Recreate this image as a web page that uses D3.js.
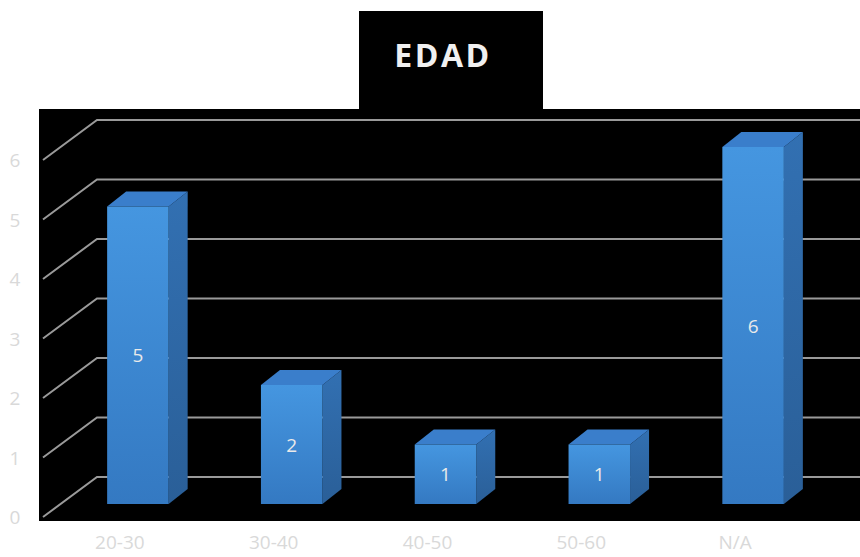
<!DOCTYPE html>
<html>
<head>
<meta charset="utf-8">
<script src="https://cdn.jsdelivr.net/npm/d3@7"></script>
<style>
  body { margin: 0; background: #fff; }
  svg { display: block; font-family: "Open Sans", "Liberation Sans", sans-serif; }
</style>
</head>
<body>
<svg id="chart" width="860" height="557"></svg>
<script>
// données
var categories = ["20-30", "30-40", "40-50", "50-60", "N/A"];
var valeurs = [5, 2, 1, 1, 6];
var ticks = [0, 1, 2, 3, 4, 5, 6];
var titre = "EDAD";

var svg = d3.select("#chart");

// profondeur des barres (perspective)
var barDx = 19, barDy = -15;

var x = d3.scaleBand().domain(categories).range([61, 830]).padding(0);
var barW = x.bandwidth() * 0.4;
var y = d3.scaleLinear().domain([0, 6]).range([504, 147]);
var yFront = function(v) { return y(v) + 13; };

// zone noire + boîte du titre
svg.append("rect").attr("x", 39).attr("y", 109).attr("width", 821).attr("height", 412).attr("fill", "#000");
svg.append("rect").attr("x", 359).attr("y", 11).attr("width", 184).attr("height", 100).attr("fill", "#000");
svg.append("text")
    .attr("x", 443).attr("y", 54)
    .attr("text-anchor", "middle").attr("dominant-baseline", "central")
    .attr("fill", "#f0f0f0").attr("font-size", 32).attr("font-weight", 700)
    .attr("letter-spacing", 2.5)
    .text(titre);

// grille: diagonale à gauche puis ligne horizontale sur le mur du fond
var grille = svg.append("g").attr("stroke", "#9a9a9a").attr("stroke-width", 2).attr("fill", "none");
grille.selectAll("path")
  .data(ticks)
  .enter().append("path")
    .attr("d", function(v) {
      var yf = yFront(v), xf = 43;
      return "M" + xf + "," + yf + "L" + (xf + 54) + "," + (yf - 40) + "L860," + (yf - 40);
    });

// étiquettes de l'axe y
svg.append("g").selectAll("text")
  .data(ticks)
  .enter().append("text")
    .attr("x", 15).attr("y", function(v) { return yFront(v); })
    .attr("text-anchor", "middle").attr("dominant-baseline", "central")
    .attr("fill", "#d9d9d9").attr("font-size", 19)
    .text(function(v) { return v; });

// dégradés des faces
var defs = svg.append("defs");
var grad = defs.append("linearGradient").attr("id", "face").attr("x1", 0).attr("y1", 0).attr("x2", 0).attr("y2", 1);
grad.append("stop").attr("offset", "0%").attr("stop-color", "#4596e0");
grad.append("stop").attr("offset", "100%").attr("stop-color", "#3479c2");
var gradSide = defs.append("linearGradient").attr("id", "cote").attr("x1", 0).attr("y1", 0).attr("x2", 0).attr("y2", 1);
gradSide.append("stop").attr("offset", "0%").attr("stop-color", "#3270b2");
gradSide.append("stop").attr("offset", "100%").attr("stop-color", "#2a5f98");

var data = categories.map(function(c, i) { return { cat: c, val: valeurs[i] }; });

var barres = svg.append("g").selectAll("g")
  .data(data)
  .enter().append("g")
    .attr("transform", function(d) {
      return "translate(" + (x(d.cat) + x.bandwidth() / 2 - barW / 2) + ",0)";
    });

// face latérale
barres.append("path")
    .attr("fill", "url(#cote)")
    .attr("d", function(d) {
      var t = y(d.val), b = y(0);
      return "M" + barW + "," + t + "L" + (barW + barDx) + "," + (t + barDy) +
             "L" + (barW + barDx) + "," + (b + barDy) + "L" + barW + "," + b + "Z";
    });
// face du dessus
barres.append("path")
    .attr("fill", "#3a7ecb")
    .attr("d", function(d) {
      var t = y(d.val);
      return "M0," + t + "L" + barDx + "," + (t + barDy) + "L" + (barW + barDx) + "," + (t + barDy) +
             "L" + barW + "," + t + "Z";
    });
// face avant
barres.append("rect")
    .attr("x", 0).attr("y", function(d) { return y(d.val); })
    .attr("width", barW).attr("height", function(d) { return y(0) - y(d.val); })
    .attr("fill", "url(#face)");
// valeurs
barres.append("text")
    .attr("x", barW / 2).attr("y", function(d) { return (y(d.val) + y(0)) / 2; })
    .attr("text-anchor", "middle").attr("dominant-baseline", "central")
    .attr("fill", "#eaeaea").attr("font-size", 19)
    .text(function(d) { return d.val; });

// étiquettes de l'axe x (au bord avant, donc décalées à gauche)
svg.append("g").selectAll("text")
  .data(categories)
  .enter().append("text")
    .attr("x", function(c) { return x(c) + x.bandwidth() / 2 - 18; })
    .attr("y", 542)
    .attr("text-anchor", "middle").attr("dominant-baseline", "central")
    .attr("fill", "#d9d9d9").attr("font-size", 19)
    .text(function(c) { return c; });
</script>
</body>
</html>
